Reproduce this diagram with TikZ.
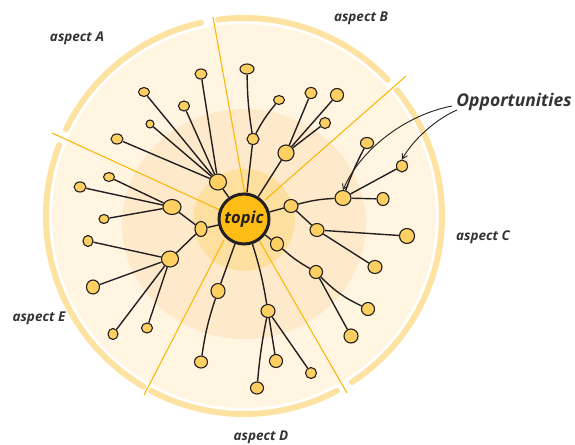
\documentclass[tikz,border=0pt]{standalone}
\usepackage{fontspec}
\setmainfont{Open Sans}
\usetikzlibrary{shapes.geometric,arrows.meta}
\definecolor{ringc}{HTML}{FDE2A2}
\definecolor{discout}{HTML}{FFF5E1}
\definecolor{discmid}{HTML}{FEEACA}
\definecolor{discin}{HTML}{FDDFA0}
\definecolor{sectc}{HTML}{F9B80E}
\definecolor{leafc}{HTML}{FDD061}
\definecolor{topicc}{HTML}{FDBD14}
\definecolor{inkc}{HTML}{231F20}
\definecolor{labc}{HTML}{333333}
\tikzset{
  ringseg/.style={line width=6pt, ringc, line cap=round},
  sector/.style={line width=1.1pt, sectc},
  conn/.style={line width=1.4pt, inkc},
  leaf/.style={ellipse, draw=inkc, line width=1.1pt, fill=leafc, inner sep=0pt},
  sz/.style 2 args={minimum width=#1pt, minimum height=#2pt},
  aspect/.style={font=\bfseries\itshape\fontsize{13.5}{16}\selectfont, text=labc},
  opparrow/.style={line width=0.9pt, inkc, -{Straight Barb[length=5pt,width=6pt]}}
}
\begin{document}
\begin{tikzpicture}[x=1pt,y=-1pt]
\useasboundingbox (0,0) rectangle (575,444);
% background discs
\fill[discout] (244,216) circle[radius=192pt];
\fill[discmid] (244,224) ellipse[x radius=122pt, y radius=115pt];
\fill[discin] (244,220) circle[radius=51pt];
% ring segments
\draw[ringseg] plot[domain=43.5:97.5, samples=50] ({244+198*cos(\x)},{216-198*sin(\x)});
\draw[ringseg] plot[domain=102.5:154, samples=50] ({244+198*cos(\x)},{216-198*sin(\x)});
\draw[ringseg] plot[domain=159:239.5, samples=60] ({244+198*cos(\x)},{216-198*sin(\x)});
\draw[ringseg] plot[domain=242:298, samples=50] ({244+198*cos(\x)},{216-198*sin(\x)});
\draw[ringseg] plot[domain=303:399.5, samples=70] ({244+198*cos(\x)},{216-198*sin(\x)});
% sector lines
\coordinate (sABi) at (245,195); \coordinate (sABo) at (213,17);
\coordinate (sAEi) at (220,210); \coordinate (sAEo) at (52,133);
\coordinate (sBCi) at (265,200); \coordinate (sBCo) at (406,76);
\coordinate (sCDi) at (259,240); \coordinate (sCDo) at (347,393);
\coordinate (sDEi) at (224,240); \coordinate (sDEo) at (144,395);
\draw[sector] (sABi) -- (sABo);
\draw[sector] (sAEi) -- (sAEo);
\draw[sector] (sBCi) -- (sBCo);
\draw[sector] (sCDi) -- (sCDo);
\draw[sector] (sDEi) -- (sDEo);
% topic
\node[circle, draw=inkc, line width=3pt, fill=topicc, minimum size=50pt, inner sep=0pt,
      font=\bfseries\itshape\fontsize{16.5}{20}\selectfont, text=inkc] (topic) at (244,219) {topic};
% aspect A
\node[leaf, sz={17}{16}] (hA) at (218,182) {};
\node[leaf, sz={12}{10}] (a1) at (201,74) {};
\node[leaf, sz={11}{9}] (a2) at (144,92) {};
\node[leaf, sz={11}{10}] (a3) at (184,106) {};
\node[leaf, sz={8}{8}] (a4) at (150,124) {};
\node[leaf, sz={12}{10}] (a5) at (117,139) {};
% aspect E
\node[leaf, sz={18}{15}] (hE1) at (172,207) {};
\node[leaf, sz={12}{15}] (hE2) at (201,229) {};
\node[leaf, sz={17}{16}] (hE3) at (170,259) {};
\node[leaf, sz={11}{9}] (e1) at (109,177) {};
\node[leaf, sz={12}{10}] (e2) at (80,187) {};
\node[leaf, sz={10}{9}] (e3) at (104,219) {};
\node[leaf, sz={10}{11}] (e4) at (88,241) {};
\node[leaf, sz={13}{14}] (e5) at (93,287) {};
\node[leaf, sz={11}{10}] (e6) at (147,328) {};
\node[leaf, sz={10}{11}] (e7) at (113,334) {};
% aspect B
\node[leaf, sz={12}{11}] (hB1) at (253,139) {};
\node[leaf, sz={16}{16}] (hB2) at (286,153) {};
\node[leaf, sz={14}{10}] (b1) at (247,69) {};
\node[leaf, sz={11}{9}] (b2) at (279,100) {};
\node[leaf, sz={12}{11}] (b3) at (311,93) {};
\node[leaf, sz={13}{13}] (b4) at (337,95) {};
\node[leaf, sz={11}{11}] (b5) at (325,123) {};
% aspect C
\node[leaf, sz={16}{15}] (hC1) at (343,198) {};
\node[leaf, sz={14}{13}] (hC2) at (291,206) {};
\node[leaf, sz={14}{13}] (hC3) at (317,230) {};
\node[leaf, sz={13}{14}] (hC4) at (277,244) {};
\node[leaf, sz={13}{13}] (hC5) at (316,272) {};
\node[leaf, sz={13}{11}] (c1) at (367,143) {};
\node[leaf, sz={11}{12}] (c2) at (402,166) {};
\node[leaf, sz={12}{13}] (c3) at (383,199) {};
\node[leaf, sz={15}{15}] (c4) at (407,236) {};
\node[leaf, sz={14}{13}] (c5) at (375,267) {};
\node[leaf, sz={13}{13}] (c6) at (368,309) {};
\node[leaf, sz={14}{14}] (c7) at (351,336) {};
% aspect D
\node[leaf, sz={14}{15}] (hD1) at (218,291) {};
\node[leaf, sz={14}{13}] (hD2) at (268,311) {};
\node[leaf, sz={13}{12}] (d1) at (201,362) {};
\node[leaf, sz={13}{13}] (d2) at (276,361) {};
\node[leaf, sz={11}{11}] (d3) at (311,373) {};
\node[leaf, sz={13}{12}] (d4) at (257,388) {};
% connectors
\draw[conn] (topic) -- (hA);
\foreach \t in {a1,a2,a3,a4,a5} \draw[conn] (hA) -- (\t);
\draw[conn] (topic) -- (hE2);
\draw[conn] (hE2) -- (hE1);
\draw[conn] (hE2) -- (hE3);
\foreach \t in {e1,e2,e3} \draw[conn] (hE1) -- (\t);
\foreach \t in {e4,e5,e6,e7} \draw[conn] (hE3) -- (\t);
\draw[conn] (topic) -- (hB1);
\draw[conn] (hB1) to[bend left=4] (b1);
\draw[conn] (hB1) to[bend left=6] (b2);
\draw[conn] (topic) -- (hB2);
\foreach \t in {b3,b4,b5} \draw[conn] (hB2) -- (\t);
\draw[conn] (topic) -- (hC2);
\draw[conn] (hC2) to[bend left=6] (hC1);
\draw[conn] (hC1) to[bend left=4] (c1);
\foreach \t in {c2,c3} \draw[conn] (hC1) -- (\t);
\draw[conn] (hC2) -- (hC3);
\draw[conn] (hC3) -- (c4);
\draw[conn] (hC3) -- (c5);
\draw[conn] (topic) -- (hC4);
\draw[conn] (hC4) to[bend right=6] (hC5);
\draw[conn] (hC5) to[bend right=10] (c6);
\draw[conn] (hC5) -- (c7);
\draw[conn] (topic) -- (hD1);
\draw[conn] (hD1) to[bend right=5] (d1);
\draw[conn] (topic) to[bend left=4] (hD2);
\draw[conn] (hD2) to[bend right=3] (d4);
\draw[conn] (hD2) -- (d2);
\draw[conn] (hD2) -- (d3);
% labels
\node[aspect] (labA) at (77,38) {aspect A};
\node[aspect] (labB) at (361,18) {aspect B};
\node[aspect] (labC) at (483,237) {aspect C};
\node[aspect] (labD) at (261,437) {aspect D};
\node[aspect] (labE) at (39,318) {aspect E};
\node[font=\bfseries\itshape\fontsize{17.5}{20}\selectfont, text=labc] (opp) at (514,102) {Opportunities};
\coordinate (o1) at (452,106);
\coordinate (o2) at (457,110);
\draw[opparrow] (o1) .. controls (405,115) and (360,150) .. (hC1.north);
\draw[opparrow] (o2) .. controls (438,118) and (414,138) .. (c2.north);
\end{tikzpicture}
\end{document}
